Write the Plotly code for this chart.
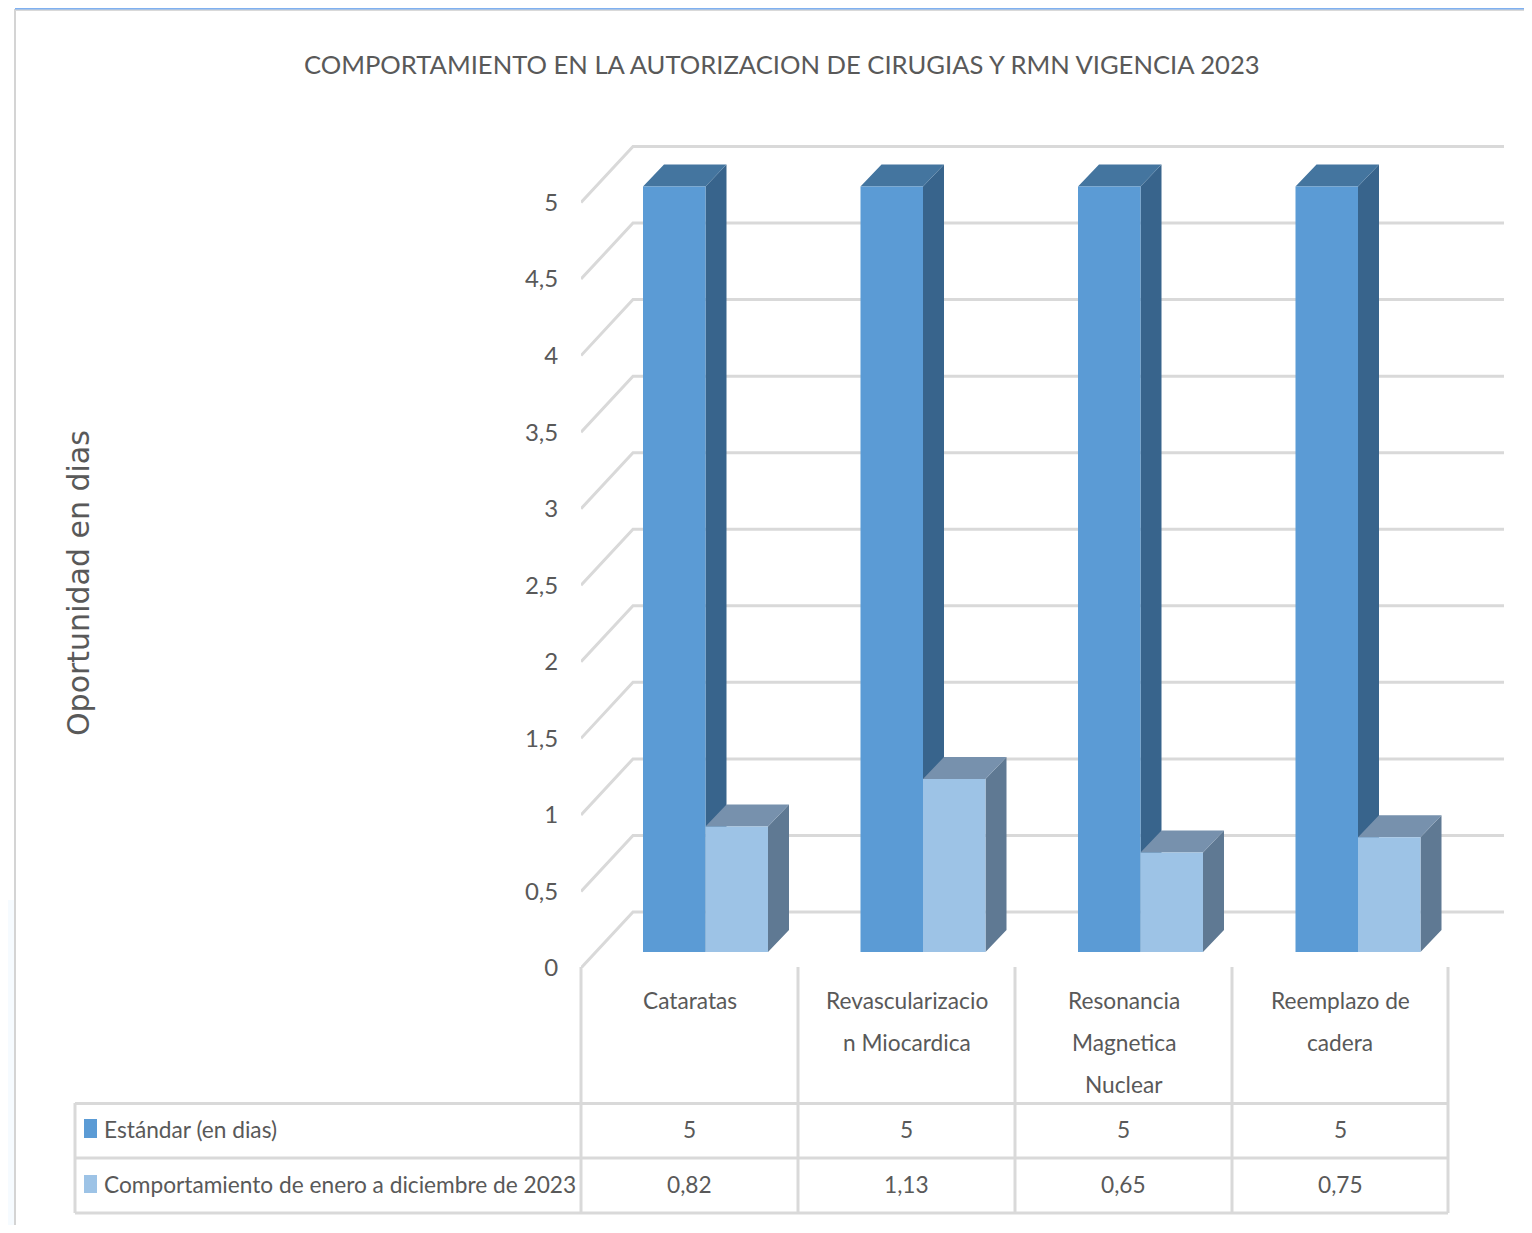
import plotly.graph_objects as go

categories = ["Cataratas", "Revascularizacion Miocardica", "Resonancia Magnetica Nuclear", "Reemplazo de cadera"]
category_lines = [["Cataratas"], ["Revascularizacio", "n Miocardica"], ["Resonancia", "Magnetica", "Nuclear"], ["Reemplazo de", "cadera"]]
series_names = ["Estándar (en dias)", "Comportamiento de enero a diciembre de 2023"]
estandar = [5, 5, 5, 5]
comportamiento = [0.82, 1.13, 0.65, 0.75]
y_ticks = [0, 0.5, 1, 1.5, 2, 2.5, 3, 3.5, 4, 4.5, 5]
title_text = "COMPORTAMIENTO EN LA AUTORIZACION DE CIRUGIAS Y RMN VIGENCIA 2023"
y_title = "Oportunidad en dias"

PAGE_PAD = 8  # default page margin round the figure
W = 1532 - 2 * PAGE_PAD
H = 1233 - 2 * PAGE_PAD
LAYOUT_H = H + 12.5
FONT = "Lato"
TXT = "#595959"
GRID = "#d9d9d9"
PL, PR, PT, PB = 581 - PAGE_PAD, 1504 - PAGE_PAD, 130 - PAGE_PAD, 968 - PAGE_PAD
CAT_W = 217.5
UNIT = 153.1
XR = [-0.5, -0.5 + (PR - PL) / CAT_W]
YR = [0, (PB - PT) / UNIT]


def px(v):
    return v / CAT_W


def py(v):
    return v / UNIT


def fmt(v):
    return str(v).replace(".", ",")


def paper_x(p):
    return (p - PAGE_PAD) / W


def paper_y(p):
    return 1 - (p - PAGE_PAD) / H


fig = go.Figure()

# back wall and side wall gridlines
gx, gy = [], []
for v in y_ticks:
    gx += [XR[0], XR[0] + px(52), XR[1], None]
    gy += [v, v + py(56), v + py(56), None]
fig.add_trace(go.Scatter(x=gx, y=gy, mode="lines", line=dict(color=GRID, width=3),
                         hoverinfo="skip", showlegend=False, cliponaxis=False))

BAR_W = px(62.5)
DX, DY = px(21), py(22)
FLOOR = py(16)
OFFS = [px(-46.75), px(15.75)]
STYLES = [("#5b9bd5", "#38648c", "#44759f"), ("#9dc3e6", "#5f7993", "#7791ad")]


def faces(vals, off):
    side_x, side_y, top_x, top_y, front_x, front_y = [], [], [], [], [], []
    for i, v in enumerate(vals):
        x0 = i + off
        x1 = x0 + BAR_W
        y0 = FLOOR
        y1 = FLOOR + v
        side_x += [x1, x1 + DX, x1 + DX, x1, x1, None]
        side_y += [y0, y0 + DY, y1 + DY, y1, y0, None]
        top_x += [x0, x1, x1 + DX, x0 + DX, x0, None]
        top_y += [y1, y1, y1 + DY, y1 + DY, y1, None]
        front_x += [x0, x1, x1, x0, x0, None]
        front_y += [y0, y0, y1, y1, y0, None]
    return (side_x, side_y), (top_x, top_y), (front_x, front_y)


for vals, off, name, (cf, cs, ct) in zip([estandar, comportamiento], OFFS, series_names, STYLES):
    s, t, f = faces(vals, off)
    for (xs, ys), c in zip([s, t, f], [cs, ct, cf]):
        fig.add_trace(go.Scatter(x=xs, y=ys, mode="lines", fill="toself", fillcolor=c,
                                 line=dict(width=0, color=c), name=name, hoverinfo="skip",
                                 showlegend=False))

shapes = []


def pline(x0, y0, x1, y1, color=GRID, width=3):
    shapes.append(dict(type="line", xref="paper", yref="paper", x0=paper_x(x0), y0=paper_y(y0),
                       x1=paper_x(x1), y1=paper_y(y1), line=dict(color=color, width=width)))


def prect(x0, y0, x1, y1, color):
    shapes.append(dict(type="rect", xref="paper", yref="paper", x0=paper_x(x0), y0=paper_y(y0),
                       x1=paper_x(x1), y1=paper_y(y1), fillcolor=color, line=dict(width=0), layer="below"))


# page frame
prect(8, 900, 14, 1225, "#f6fbff")
pline(15, 9, 15, 1225, "#d4d4d4", 2)
pline(15, 10, 1524, 10, "#d9d9d9", 2)
pline(15, 8, 1524, 8, "#7fb0f0", 3)

# data table
COLS = [581, 798, 1015, 1232, 1448]
for c in COLS:
    pline(c, 967, c, 1213)
for r in [1103.5, 1158, 1213]:
    pline(75, r, 1448, r)
pline(75, 1103, 75, 1213)
prect(84, 1119, 97, 1138, STYLES[0][0])
prect(84, 1175, 97, 1193, STYLES[1][0])

ann = []


def text(x, y, s, size=22.7, anchor="center", font=FONT, angle=0):
    ann.append(dict(xref="paper", yref="paper", x=paper_x(x), y=paper_y(y), text=s, showarrow=False,
                    xanchor=anchor, yanchor="middle", textangle=angle,
                    font=dict(family=font, size=size, color=TXT)))


text(782, 64, title_text, size=25.6)
text(78, 583, y_title, size=30, font="DejaVu Sans", angle=-90)
text(102, 1129, series_names[0], anchor="left")
text(102, 1184, series_names[1], anchor="left")
for i, lines in enumerate(category_lines):
    cx = (COLS[i] + COLS[i + 1]) / 2
    for j, ln in enumerate(lines):
        text(cx, 1000 + 42 * j, ln)
    text(cx, 1129, fmt(estandar[i]))
    text(cx, 1184, fmt(comportamiento[i]))

fig.update_layout(
    width=W, height=LAYOUT_H, autosize=False,
    margin=dict(l=0, r=0, t=0, b=0),
    paper_bgcolor="white", plot_bgcolor="rgba(0,0,0,0)",
    showlegend=False, shapes=shapes, annotations=ann,
    xaxis=dict(range=XR, domain=[PL / W, PR / W], visible=False, fixedrange=True),
    yaxis=dict(range=YR, domain=[1 - PB / H, 1 - PT / H], anchor="free", position=PL / W,
               tickmode="array", tickvals=y_ticks, ticktext=[fmt(v) for v in y_ticks],
               ticks="outside", ticklen=18, tickcolor="rgba(0,0,0,0)", showgrid=False,
               showline=False, zeroline=False, tickfont=dict(family=FONT, size=24, color=TXT),
               fixedrange=True),
)
fig.write_html("out.html", config=dict(displayModeBar=False))
